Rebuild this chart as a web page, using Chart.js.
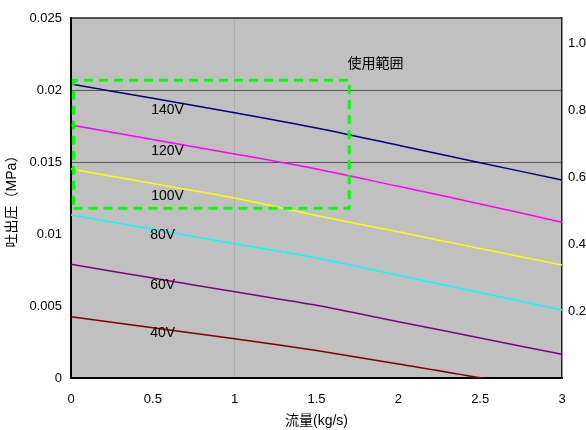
<!DOCTYPE html>
<html>
<head>
<meta charset="utf-8">
<script src="https://cdn.jsdelivr.net/npm/chart.js@4.4.1/dist/chart.umd.min.js"></script>
<style>
    body { margin: 0; background: #fff; }
</style>
</head>
<body>
<canvas id="grafico" width="586" height="430"></canvas>
<script>
// caudal (kg/s) y presión de descarga (MPa) por tensión
const flujo = [0, 0.5, 1, 1.5, 2, 2.5, 3];
const p140 = [0.02042, 0.01942, 0.01842, 0.01736, 0.01616, 0.01495, 0.01375];
const p120 = [0.01757, 0.01656, 0.01556, 0.01451, 0.01331, 0.01209, 0.01081];
const p100 = [0.01451, 0.01351, 0.01250, 0.01129, 0.01015, 0.00899, 0.00785];
const p80 = [0.01132, 0.01033, 0.00933, 0.00833, 0.00713, 0.00593, 0.00472];
const p60 = [0.00790, 0.00694, 0.00599, 0.00505, 0.00391, 0.00278, 0.00164];
const p40 = [0.00426, 0.00349, 0.00273, 0.00191, 0.00097, 0.00001, -0.00110];

// rango de uso (recuadro verde)
const rangoX = [0.015, 1.7, 1.7, 0.015, 0.015];
const rangoY = [0.01178, 0.01178, 0.02067, 0.02067, 0.01178];

// etiquetas de texto dentro del gráfico
const etiquetas = ['140V', '120V', '100V', '80V', '60V', '40V', '使用範囲'];
const etiquetasX = [0.59, 0.59, 0.59, 0.56, 0.56, 0.56, 1.86];
const etiquetasY = [0.01861, 0.01576, 0.01264, 0.00993, 0.00646, 0.00313, 0.0218];

const ticksX = [0, 0.5, 1, 1.5, 2, 2.5, 3];
const ticksDerecha = [0.2, 0.4, 0.6, 0.8, 1.0];

const FUENTE = "'Liberation Sans', 'Noto Sans CJK JP', sans-serif";

function serie(valores, color) {
    return {
        data: flujo.map((f, i) => ({x: f, y: valores[i]})),
        borderColor: color,
        backgroundColor: color,
        borderWidth: 1.5,
        pointRadius: 0,
        tension: 0.3,
        fill: false
    }
}

const fondoPlugin = {
    id: 'fondo',
    beforeDraw(chart) {
        const {ctx, chartArea: a} = chart;
        ctx.save();
        ctx.fillStyle = '#c0c0c0';
        ctx.fillRect(a.left, a.top, a.right - a.left, a.bottom - a.top);
        ctx.restore();
    },
    afterDraw(chart) {
        const {ctx, chartArea: a} = chart;
        ctx.save();
        ctx.strokeStyle = '#222';
        ctx.lineWidth = 1.5;
        ctx.beginPath();
        ctx.moveTo(a.left, a.top);
        ctx.lineTo(a.right, a.top);
        ctx.stroke();
        ctx.restore();
    }
};

const textosPlugin = {
    id: 'textos',
    afterDatasetsDraw(chart) {
        const {ctx, scales} = chart;
        ctx.save();
        ctx.fillStyle = '#000';
        ctx.textAlign = 'center';
        ctx.textBaseline = 'middle';
        etiquetas.forEach((txt, i) => {
            ctx.font = (i === 6 ? '14px ' : '14px ') + FUENTE;
            ctx.fillText(txt, scales.x.getPixelForValue(etiquetasX[i]), scales.y.getPixelForValue(etiquetasY[i]));
        });
        ctx.restore();
    }
};

const recuadro = {
    data: rangoX.map((x, i) => ({x: x, y: rangoY[i]})),
    borderColor: '#00ff00',
    borderWidth: 3,
    borderDash: [9, 6],
    pointRadius: 0,
    tension: 0,
    fill: false
};

function formato(v) {
    return String(+v.toFixed(3));
}

new Chart(document.getElementById('grafico').getContext('2d'), {
    type: 'line',
    data: {
        datasets: [
            recuadro,
            serie(p140, '#000080'),
            serie(p120, '#ff00ff'),
            serie(p100, '#ffff00'),
            serie(p80, '#00ffff'),
            serie(p60, '#800080'),
            serie(p40, '#800000'),
        ]
    },
    options: {
        responsive: false,
        animation: false,
        layout: {padding: {top: 18, left: 0, right: 0, bottom: 0}},
        plugins: {
            legend: {display: false},
            tooltip: {enabled: false}
        },
        scales: {
            x: {
                type: 'linear',
                position: 'bottom',
                min: 0,
                max: 3,
                afterBuildTicks: s => { s.ticks = ticksX.map(v => ({value: v})); },
                afterFit: s => { s.height = 52; },
                ticks: {
                    padding: 14,
                    color: '#000',
                    font: {family: FUENTE, size: 13},
                    callback: v => formato(v)
                },
                grid: {
                    drawTicks: false,
                    color: c => c.tick && c.tick.value === 1 ? 'rgba(150,150,150,0.4)' : 'transparent'
                },
                border: {color: '#000', width: 2},
                title: {
                    display: true,
                    text: '流量(kg/s)',
                    color: '#000',
                    font: {family: FUENTE, size: 14},
                    padding: {top: 0, bottom: 0}
                }
            },
            y: {
                position: 'left',
                min: 0,
                max: 0.025,
                afterFit: s => { s.width = 71; },
                ticks: {
                    stepSize: 0.005,
                    padding: 9,
                    color: '#000',
                    font: {family: FUENTE, size: 13},
                    callback: v => formato(v)
                },
                grid: {
                    drawTicks: false,
                    color: c => (c.tick && (Math.abs(c.tick.value - 0.015) < 1e-6 || Math.abs(c.tick.value - 0.02) < 1e-6)) ? '#555' : 'transparent'
                },
                border: {color: '#000', width: 2},
                title: {
                    display: true,
                    text: '吐出圧（MPa）',
                    color: '#000',
                    font: {family: FUENTE, size: 14},
                    padding: {top: 4, bottom: 0}
                }
            },
            y1: {
                position: 'right',
                min: 0,
                max: 1.075,
                afterBuildTicks: s => { s.ticks = ticksDerecha.map(v => ({value: v})); },
                afterFit: s => { s.width = 24; },
                ticks: {
                    padding: 6,
                    color: '#000',
                    font: {family: FUENTE, size: 13},
                    callback: v => v.toFixed(1)
                },
                grid: {display: false, drawTicks: false},
                border: {color: '#222', width: 1.5}
            }
        }
    },
    plugins: [fondoPlugin, textosPlugin]
});
</script>
</body>
</html>
